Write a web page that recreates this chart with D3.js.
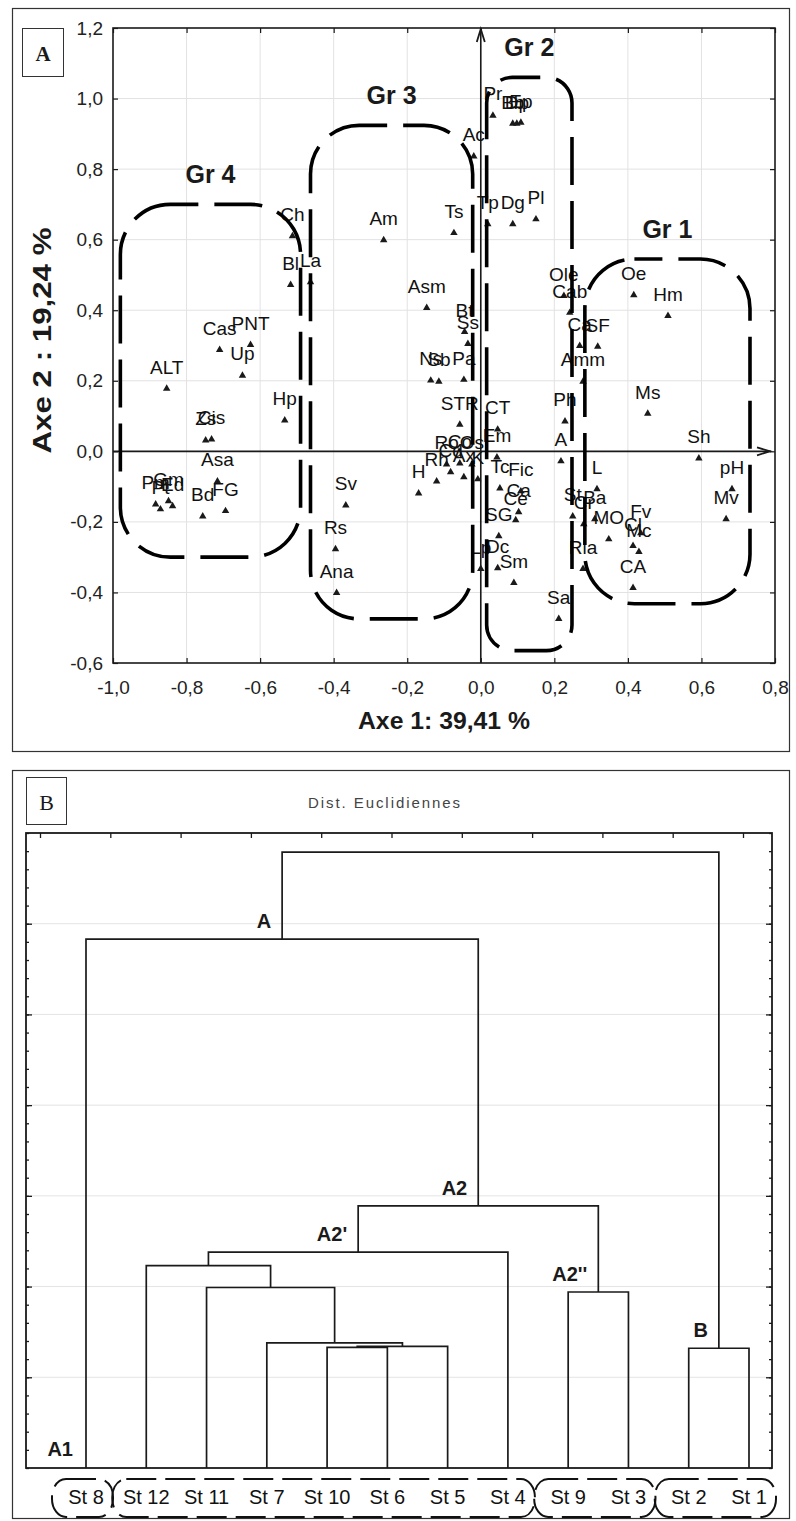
<!DOCTYPE html>
<html>
<head>
<meta charset="utf-8">
<script src="https://cdn.jsdelivr.net/npm/d3@7"></script>
<style>
  body { margin: 0; background: #fff; }
  svg { display: block; }
  text { font-family: "Liberation Sans", Arial, Helvetica, sans-serif; }
</style>
</head>
<body>
<svg id="fig" width="796" height="1521"></svg>
<script>
// ---------- Panel A : variables on the first factorial plane ----------
const xTickValues = [-1.0, -0.8, -0.6, -0.4, -0.2, 0.0, 0.2, 0.4, 0.6, 0.8];
const yTickValues = [-0.6, -0.4, -0.2, 0.0, 0.2, 0.4, 0.6, 0.8, 1.0, 1.2];
const axis1Title = "Axe 1: 39,41 %";
const axis2Title = "Axe 2 : 19,24 %";

// variable names with their coordinates on axis 1 and axis 2
const variables = [
  // Gr 4
  "Ch", "Bl", "La", "Cas", "PNT", "Up", "ALT", "Hp", "Zs", "Cis", "Asa", "Bd", "FG", "Pm", "Pt", "Gm", "Ed",
  // Gr 3
  "Am", "Ts", "Asm", "Bt", "Ss", "Ns", "Sb", "Pa", "STR", "Sv", "Rs", "Ana", "H", "Rh", "Cd", "Ax", "Ro", "Co", "Os",
  // Gr 2
  "Pr", "Ac", "Bb", "Dp", "Ep", "Tp", "Dg", "Pl", "CT", "Em", "K", "Tc", "Fic", "Ca", "Ce", "SG", "Lp", "Dc", "Sm",
  // Gr 1
  "Ole", "Cab", "Ca", "SF", "Amm", "Ph", "A", "L", "St", "Cr", "Ba", "Ria", "Sa", "MO", "Fv", "Cl", "Mc", "CA",
  "Oe", "Hm", "Ms", "Sh", "pH", "Mv"
];
const axis1 = [
  -0.512, -0.517, -0.463, -0.710, -0.626, -0.648, -0.854, -0.533, -0.748, -0.732, -0.716, -0.756, -0.694, -0.884, -0.871, -0.849, -0.838,
  -0.264, -0.073, -0.147, -0.044, -0.035, -0.136, -0.114, -0.046, -0.057, -0.367, -0.395, -0.392, -0.169, -0.120, -0.082, -0.046, -0.093, -0.057, -0.024,
  0.033, -0.019, 0.087, 0.098, 0.109, 0.019, 0.087, 0.150, 0.046, 0.044, -0.008, 0.052, 0.109, 0.103, 0.095, 0.049, 0.000, 0.046, 0.090,
  0.226, 0.242, 0.269, 0.318, 0.278, 0.229, 0.218, 0.316, 0.250, 0.280, 0.310, 0.278, 0.212, 0.348, 0.435, 0.414, 0.430, 0.414,
  0.416, 0.509, 0.454, 0.593, 0.683, 0.667
];
const axis2 = [
  0.610, 0.472, 0.480, 0.288, 0.302, 0.215, 0.178, 0.088, 0.031, 0.034, -0.085, -0.184, -0.169, -0.150, -0.164, -0.141, -0.155,
  0.599, 0.619, 0.407, 0.339, 0.305, 0.201, 0.198, 0.203, 0.076, -0.153, -0.277, -0.401, -0.119, -0.085, -0.059, -0.073, -0.037, -0.034, -0.037,
  0.952, 0.836, 0.929, 0.929, 0.932, 0.644, 0.644, 0.658, 0.062, -0.017, -0.079, -0.105, -0.113, -0.172, -0.195, -0.240, -0.333, -0.331, -0.373,
  0.441, 0.393, 0.299, 0.297, 0.198, 0.085, -0.028, -0.107, -0.184, -0.206, -0.192, -0.333, -0.475, -0.249, -0.232, -0.268, -0.285, -0.387,
  0.443, 0.384, 0.107, -0.020, -0.107, -0.192
];

// extents of the four variable groups, in axis units
const groupNames = ["Gr 1", "Gr 2", "Gr 3", "Gr 4"];
const groupAxis1Min = [0.283, 0.016, -0.463, -0.980];
const groupAxis1Max = [0.732, 0.248, -0.022, -0.490];
const groupAxis2Min = [-0.432, -0.565, -0.475, -0.300];
const groupAxis2Max = [0.545, 1.060, 0.924, 0.700];

// ---------- Panel B : cluster tree of the stations ----------
const stations = ["St 8", "St 12", "St 11", "St 7", "St 10", "St 6", "St 5", "St 4", "St 9", "St 3", "St 2", "St 1"];
// each merge joins two nodes (0..11 = stations, 12.. = previous merges) at a linkage distance
const mergeLeft   = [4, 12, 3, 2, 1, 16, 8, 17, 0, 10, 20];
const mergeRight  = [5, 6, 13, 14, 15, 7, 9, 18, 19, 11, 21];
const mergeHeight = [13.3, 13.4, 13.8, 19.9, 22.3, 23.8, 19.4, 28.9, 58.3, 13.2, 67.9];
const mergeNames  = ["", "", "", "", "", "A2'", "A2''", "A2", "A", "B", ""];
const stationGroups = [["St 8"], ["St 12", "St 4"], ["St 9", "St 3"], ["St 2", "St 1"]];
const treeTitle = "Dist. Euclidiennes";

const svg = d3.select("#fig");
const ink = "#1a1a1a";
const fmt = d3.formatLocale({decimal: ",", thousands: " ", grouping: [3], currency: ["", ""], minus: "-"}).format(".1f");

// ================= Panel A =================
const A = {left: 113, right: 775, top: 28, bottom: 663};
const xA = d3.scaleLinear([-1, 0.8], [A.left, A.right]);
const yA = d3.scaleLinear([-0.6, 1.2], [A.bottom, A.top]);

svg.append("rect").attr("x", 12.5).attr("y", 8.5).attr("width", 777).attr("height", 743)
  .attr("fill", "none").attr("stroke", "#333").attr("stroke-width", 1.2);
svg.append("rect").attr("x", 22.5).attr("y", 28.5).attr("width", 41).attr("height", 48)
  .attr("fill", "none").attr("stroke", "#333").attr("stroke-width", 1);
svg.append("text").attr("x", 43).attr("y", 61).attr("text-anchor", "middle")
  .style("font-family", "'Liberation Serif', 'Times New Roman', serif").style("font-weight", "bold")
  .style("font-size", "21px").attr("fill", ink).text("A");

const gA = svg.append("g");

// light grid
gA.append("g").selectAll("line").data(xTickValues.slice(1, -1)).join("line")
  .attr("x1", d => xA(d)).attr("x2", d => xA(d)).attr("y1", A.top).attr("y2", A.bottom)
  .attr("stroke", "#e2e2e2").attr("stroke-width", 1);
gA.append("g").selectAll("line").data(yTickValues.slice(1, -1)).join("line")
  .attr("y1", d => yA(d)).attr("y2", d => yA(d)).attr("x1", A.left).attr("x2", A.right)
  .attr("stroke", "#e2e2e2").attr("stroke-width", 1);

// axes with inward ticks
function styleAxis(g, size) {
  g.select(".domain").remove();
  g.selectAll(".tick line").attr("stroke", ink).attr("stroke-width", 1.2);
  g.selectAll(".tick text").attr("fill", "#222").style("font-size", size + "px")
    .style("font-family", "'Liberation Sans', Arial, sans-serif");
}
gA.append("g").attr("transform", `translate(0,${A.bottom})`)
  .call(d3.axisBottom(xA).tickValues(xTickValues).tickFormat(fmt).tickSize(-5).tickPadding(18))
  .call(g => styleAxis(g, 19));
gA.append("g").attr("transform", `translate(${A.left},0)`)
  .call(d3.axisLeft(yA).tickValues(yTickValues).tickFormat(fmt).tickSize(-5).tickPadding(10))
  .call(g => styleAxis(g, 19));
gA.append("g").attr("transform", `translate(0,${A.top})`)
  .call(d3.axisTop(xA).tickValues(xTickValues).tickFormat("").tickSize(-5))
  .call(g => styleAxis(g, 19));
gA.append("g").attr("transform", `translate(${A.right},0)`)
  .call(d3.axisRight(yA).tickValues(yTickValues).tickFormat("").tickSize(-5))
  .call(g => styleAxis(g, 19));

gA.append("rect").attr("x", A.left).attr("y", A.top).attr("width", A.right - A.left).attr("height", A.bottom - A.top)
  .attr("fill", "none").attr("stroke", ink).attr("stroke-width", 1.6);

// axis titles
gA.append("text").attr("x", (A.left + A.right) / 2).attr("y", 729).attr("text-anchor", "middle")
  .style("font-weight", "bold").style("font-size", "23px").attr("fill", ink)
  .attr("textLength", 172).attr("lengthAdjust", "spacingAndGlyphs").text(axis1Title);
gA.append("text").attr("transform", `translate(51,${(A.top + A.bottom) / 2 - 5}) rotate(-90)`)
  .attr("text-anchor", "middle").style("font-weight", "bold").style("font-size", "26px").attr("fill", ink)
  .attr("textLength", 226).attr("lengthAdjust", "spacingAndGlyphs").text(axis2Title);

// origin axes with arrow heads
const x0 = xA(0), y0 = yA(0);
gA.append("line").attr("x1", x0).attr("x2", x0).attr("y1", A.bottom).attr("y2", A.top + 1)
  .attr("stroke", ink).attr("stroke-width", 1.6);
gA.append("path").attr("d", `M${x0 - 4},${A.top + 14} L${x0},${A.top + 1} L${x0 + 4},${A.top + 14}`)
  .attr("fill", "none").attr("stroke", ink).attr("stroke-width", 1.8);
gA.append("line").attr("x1", A.left).attr("x2", A.right - 4).attr("y1", y0).attr("y2", y0)
  .attr("stroke", ink).attr("stroke-width", 1.6);
gA.append("path").attr("d", `M${A.right - 18},${y0 - 4} L${A.right - 5},${y0} L${A.right - 18},${y0 + 4}`)
  .attr("fill", "none").attr("stroke", ink).attr("stroke-width", 1.8);

// variable points and labels
const pts = variables.map((name, i) => ({name, x: axis1[i], y: axis2[i]}));
const tri = d3.symbol(d3.symbolTriangle, 24);
gA.append("g").selectAll("path").data(pts).join("path")
  .attr("d", tri).attr("transform", d => `translate(${xA(d.x)},${yA(d.y)})`).attr("fill", ink);
gA.append("g").selectAll("text").data(pts).join("text")
  .attr("x", d => xA(d.x)).attr("y", d => yA(d.y) - 15).attr("text-anchor", "middle")
  .style("font-size", "19px").attr("fill", "#111").text(d => d.name);

// dashed group outlines
const hulls = groupNames.map((name, i) => ({
  name,
  x: xA(groupAxis1Min[i]), X: xA(groupAxis1Max[i]),
  y: yA(groupAxis2Max[i]), Y: yA(groupAxis2Min[i])
}));
gA.append("g").selectAll("rect").data(hulls).join("rect")
  .attr("x", d => d.x).attr("y", d => d.y).attr("width", d => d.X - d.x).attr("height", d => d.Y - d.y)
  .attr("rx", d => Math.min(50, (d.X - d.x) * 0.3)).attr("ry", d => Math.min(50, (d.X - d.x) * 0.3))
  .attr("fill", "none").attr("stroke", "#000").attr("stroke-width", 3.6)
  .attr("stroke-dasharray", "48 16").attr("stroke-dashoffset", 20);
gA.append("g").selectAll("text").data(hulls).join("text")
  .attr("x", d => (d.x + d.X) / 2).attr("y", d => d.y - 21).attr("text-anchor", "middle")
  .style("font-weight", "bold").style("font-size", "25px").attr("fill", ink).text(d => d.name);

// ================= Panel B =================
const B = {left: 26, right: 772, top: 833, bottom: 1468};
const xB = d3.scalePoint(stations, [86, 749]);
const yB = d3.scaleLinear([0, 70], [B.bottom, B.top]);

svg.append("rect").attr("x", 12.5).attr("y", 770.5).attr("width", 777).attr("height", 748)
  .attr("fill", "none").attr("stroke", "#333").attr("stroke-width", 1.2);
svg.append("rect").attr("x", 26.5).attr("y", 777.5).attr("width", 40).attr("height", 47)
  .attr("fill", "none").attr("stroke", "#333").attr("stroke-width", 1);
svg.append("text").attr("x", 46.5).attr("y", 810).attr("text-anchor", "middle")
  .style("font-family", "'Liberation Serif', 'Times New Roman', serif")
  .style("font-size", "22px").attr("fill", ink).text("B");
svg.append("text").attr("x", 384).attr("y", 808).attr("text-anchor", "middle")
  .style("font-size", "15px").attr("fill", "#444")
  .attr("textLength", 152).attr("lengthAdjust", "spacing").text(treeTitle);

const gB = svg.append("g");
const majors = d3.range(10, 70, 10);
gB.append("g").selectAll("line").data(majors).join("line")
  .attr("x1", B.left).attr("x2", B.right).attr("y1", d => yB(d)).attr("y2", d => yB(d))
  .attr("stroke", "#e4e4e4").attr("stroke-width", 1);

// scale ticks on left and right (majors every 10, minors every 2)
function sideTicks(g) {
  g.select(".domain").remove();
  g.selectAll(".tick line").attr("stroke", ink).attr("stroke-width", 1.3);
}
const minorVals = d3.range(0, 71, 2);
gB.append("g").attr("transform", `translate(${B.left},0)`)
  .call(d3.axisLeft(yB).tickValues(minorVals).tickFormat("").tickSize(-3)).call(sideTicks);
gB.append("g").attr("transform", `translate(${B.left},0)`)
  .call(d3.axisLeft(yB).tickValues(majors).tickFormat("").tickSize(-6)).call(sideTicks);
gB.append("g").attr("transform", `translate(${B.right},0)`)
  .call(d3.axisRight(yB).tickValues(minorVals).tickFormat("").tickSize(-3)).call(sideTicks);
gB.append("g").attr("transform", `translate(${B.right},0)`)
  .call(d3.axisRight(yB).tickValues(majors).tickFormat("").tickSize(-6)).call(sideTicks);
const topScale = d3.scaleLinear([0, 10], [40, 743]);
gB.append("g").attr("transform", `translate(0,${B.top})`)
  .call(d3.axisTop(topScale).ticks(10).tickFormat("").tickSize(-5)).call(sideTicks);

gB.append("rect").attr("x", B.left).attr("y", B.top).attr("width", B.right - B.left).attr("height", B.bottom - B.top)
  .attr("fill", "none").attr("stroke", ink).attr("stroke-width", 1.8);

// node positions: stations at the bottom, clusters centred between their two children
const nodes = stations.map(s => ({x: xB(s), h: 0}));
mergeLeft.forEach((l, i) => {
  const a = nodes[l], b = nodes[mergeRight[i]];
  nodes.push({x: (a.x + b.x) / 2, h: mergeHeight[i], a, b, name: mergeNames[i]});
});
const merges = nodes.slice(stations.length);
gB.append("g").selectAll("path").data(merges).join("path")
  .attr("d", d => `M${d.a.x},${yB(d.a.h)} V${yB(d.h)} H${d.b.x} V${yB(d.b.h)}`)
  .attr("fill", "none").attr("stroke", ink).attr("stroke-width", 1.7);

// cluster tags
gB.append("g").selectAll("text").data(merges.filter(d => d.name)).join("text")
  .attr("x", d => d.x - 11).attr("y", d => yB(d.h) - 11).attr("text-anchor", "end")
  .style("font-weight", "bold").style("font-size", "20px").attr("fill", ink).text(d => d.name);
gB.append("text").attr("x", xB("St 8") - 13).attr("y", B.bottom - 12).attr("text-anchor", "end")
  .style("font-weight", "bold").style("font-size", "20px").attr("fill", ink).text("A1");

// station labels and dashed brackets
gB.append("g").selectAll("text").data(stations).join("text")
  .attr("x", d => xB(d)).attr("y", 1504).attr("text-anchor", "middle")
  .style("font-size", "20px").attr("fill", "#111").text(d => d);
gB.append("g").selectAll("rect").data(stationGroups).join("rect")
  .attr("x", d => xB(d[0]) - 34).attr("y", 1479)
  .attr("width", d => xB(d[d.length - 1]) - xB(d[0]) + 61).attr("height", 38)
  .attr("rx", 14).attr("ry", 18).attr("fill", "none").attr("stroke", "#111")
  .attr("stroke-width", 2).attr("stroke-dasharray", "30 9");
</script>
</body>
</html>
